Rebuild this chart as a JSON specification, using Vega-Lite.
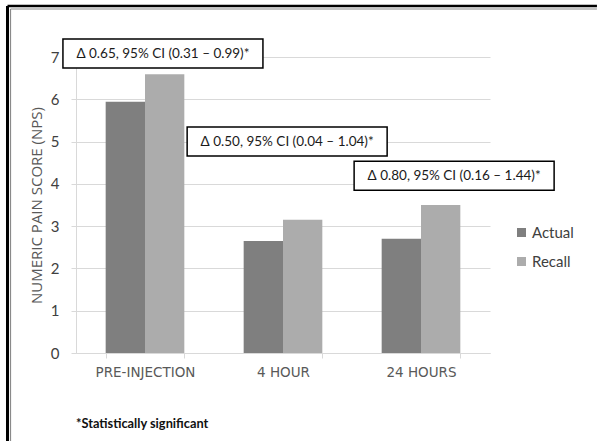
{
  "$schema": "https://vega.github.io/schema/vega-lite/v6.json",
  "width": 414,
  "height": 296,
  "autosize": {"type": "none"},
  "padding": {"left": 76, "top": 57, "right": 107, "bottom": 88},
  "background": "white",
  "config": {
    "font": "Lato",
    "view": {"stroke": null}
  },
  "datasets": {
    "scores": [
      {"time": "PRE-INJECTION", "group": "Actual", "score": 5.94},
      {"time": "PRE-INJECTION", "group": "Recall", "score": 6.59},
      {"time": "4 HOUR", "group": "Actual", "score": 2.65},
      {"time": "4 HOUR", "group": "Recall", "score": 3.15},
      {"time": "24 HOURS", "group": "Actual", "score": 2.7},
      {"time": "24 HOURS", "group": "Recall", "score": 3.5}
    ],
    "notes": [
      {"label": "Δ 0.65, 95% CI (0.31 – 0.99)*", "pos": 0.63, "level": 7.08},
      {"label": "Δ 0.50, 95% CI (0.04 – 1.04)*", "pos": 1.53, "level": 5.0},
      {"label": "Δ 0.80, 95% CI (0.16 – 1.44)*", "pos": 2.74, "level": 4.19}
    ],
    "single": [{}]
  },
  "layer": [
    {
      "data": {"name": "scores"},
      "mark": {"type": "bar"},
      "encoding": {
        "x": {
          "field": "time",
          "type": "nominal",
          "sort": null,
          "scale": {"paddingInner": 0.43, "paddingOuter": 0.215},
          "axis": {
            "title": null,
            "labelAngle": 0,
            "labelFont": "DejaVu Sans",
            "labelFontSize": 13.5,
            "labelColor": "#595959",
            "labelPadding": 7,
            "tickBand": "extent",
            "tickSize": 5,
            "tickColor": "#d9d9d9",
            "domainColor": "#d9d9d9",
            "grid": false
          }
        },
        "xOffset": {"field": "group", "type": "nominal"},
        "y": {
          "field": "score",
          "type": "quantitative",
          "scale": {"domain": [0, 7], "nice": false},
          "axis": {
            "title": "NUMERIC PAIN SCORE (NPS)",
            "titleFont": "Open Sans",
            "titleFontSize": 15,
            "titleFontWeight": "normal",
            "titleColor": "#595959",
            "titlePadding": 6,
            "values": [0, 1, 2, 3, 4, 5, 6, 7],
            "labelFontSize": 15,
            "labelColor": "#404040",
            "labelPadding": 12,
            "tickSize": 5,
            "tickColor": "#d9d9d9",
            "domainColor": "#d9d9d9",
            "gridColor": "#d9d9d9",
            "gridWidth": 1
          }
        },
        "color": {
          "field": "group",
          "type": "nominal",
          "scale": {"domain": ["Actual", "Recall"], "range": ["#7f7f7f", "#acacac"]},
          "legend": {
            "title": null,
            "orient": "none",
            "legendX": 438,
            "legendY": 168,
            "symbolType": "square",
            "symbolSize": 81,
            "symbolStrokeWidth": 0,
            "labelFontSize": 15,
            "labelColor": "#404040",
            "labelOffset": 3,
            "rowPadding": 13
          }
        }
      }
    },
    {
      "data": {"name": "notes"},
      "mark": {
        "type": "point",
        "shape": "M-1,-0.145L1,-0.145L1,0.145L-1,0.145Z",
        "size": 40000,
        "filled": false,
        "fill": "white",
        "stroke": "black",
        "strokeWidth": 1.5,
        "opacity": 1,
        "clip": false
      },
      "encoding": {
        "x": {"field": "pos", "type": "quantitative", "scale": {"domain": [0, 3], "nice": false, "zero": false}, "axis": null},
        "y": {"field": "level", "type": "quantitative", "scale": {"domain": [0, 7], "nice": false}}
      }
    },
    {
      "data": {"name": "notes"},
      "mark": {"type": "text", "fontSize": 13.5, "color": "#1a1a1a", "align": "center", "baseline": "middle", "clip": false},
      "encoding": {
        "x": {"field": "pos", "type": "quantitative", "scale": {"domain": [0, 3], "nice": false, "zero": false}, "axis": null},
        "y": {"field": "level", "type": "quantitative", "scale": {"domain": [0, 7], "nice": false}},
        "text": {"field": "label"}
      }
    },
    {
      "data": {"name": "single"},
      "mark": {"type": "text", "text": "*Statistically significant", "fontSize": 12.8, "fontWeight": "bold", "color": "#111111", "align": "left", "baseline": "middle", "clip": false},
      "encoding": {
        "x": {"datum": 0, "type": "quantitative", "scale": {"domain": [0, 3], "nice": false, "zero": false}, "axis": null},
        "y": {"datum": -1.68, "type": "quantitative", "scale": {"domain": [0, 7], "nice": false}}
      }
    },
    {
      "data": {"name": "single"},
      "mark": {"type": "rule", "color": "black", "strokeWidth": 2.5, "clip": false},
      "encoding": {
        "x": {"datum": -0.4964, "type": "quantitative", "scale": {"domain": [0, 3], "nice": false, "zero": false}, "axis": null},
        "x2": {"datum": 3.775},
        "y": {"datum": 8.206, "type": "quantitative", "scale": {"domain": [0, 7], "nice": false}}
      }
    },
    {
      "data": {"name": "single"},
      "mark": {"type": "rule", "color": "#8a8a8a", "strokeWidth": 1.2, "clip": false},
      "encoding": {
        "x": {"datum": -0.4746, "type": "quantitative", "scale": {"domain": [0, 3], "nice": false, "zero": false}, "axis": null},
        "x2": {"datum": 3.775},
        "y": {"datum": 8.135, "type": "quantitative", "scale": {"domain": [0, 7], "nice": false}}
      }
    },
    {
      "data": {"name": "single"},
      "mark": {"type": "rule", "color": "black", "strokeWidth": 3, "clip": false},
      "encoding": {
        "x": {"datum": -0.4964, "type": "quantitative", "scale": {"domain": [0, 3], "nice": false, "zero": false}, "axis": null},
        "y": {"datum": 8.206, "type": "quantitative", "scale": {"domain": [0, 7], "nice": false}},
        "y2": {"datum": -2.08}
      }
    },
    {
      "data": {"name": "single"},
      "mark": {"type": "rule", "color": "#8a8a8a", "strokeWidth": 1.2, "clip": false},
      "encoding": {
        "x": {"datum": -0.4746, "type": "quantitative", "scale": {"domain": [0, 3], "nice": false, "zero": false}, "axis": null},
        "y": {"datum": 8.135, "type": "quantitative", "scale": {"domain": [0, 7], "nice": false}},
        "y2": {"datum": -2.08}
      }
    }
  ],
  "resolve": {"scale": {"x": "independent", "xOffset": "independent"}}
}
